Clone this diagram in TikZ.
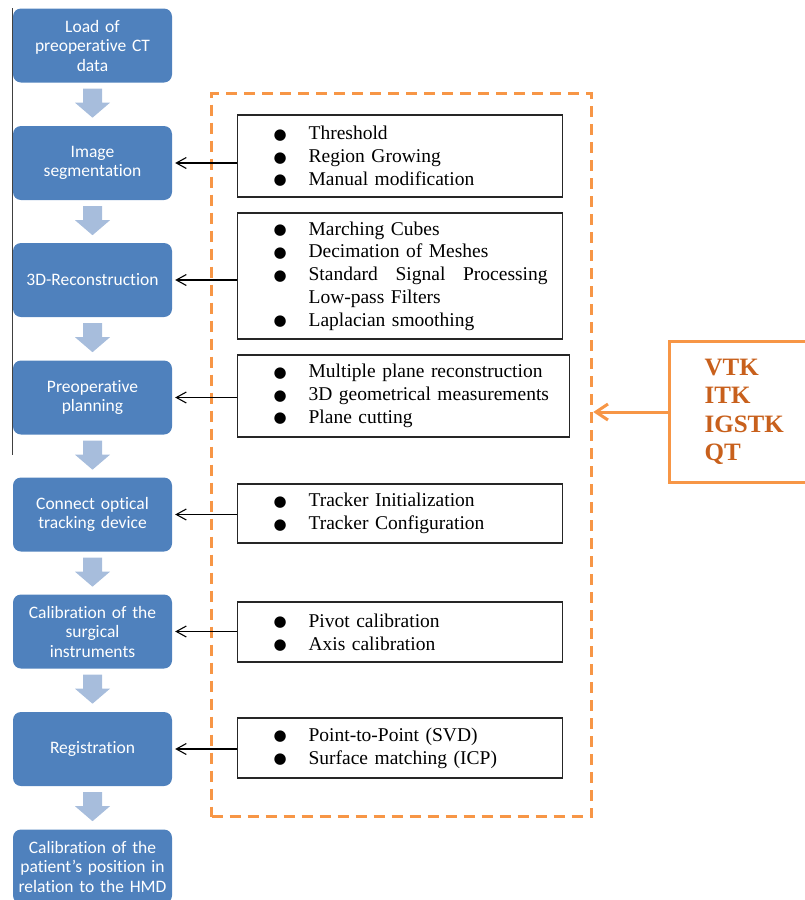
\documentclass[tikz,border=0pt]{standalone}
\usepackage{fontspec}
\setmainfont{Liberation Serif}
\newfontfamily\calfont[Ligatures=NoCommon]{Carlito}
\newfontfamily\symfont{DejaVu Sans}
\usepackage{xcolor}
\usetikzlibrary{positioning,arrows.meta}

\definecolor{stageblue}{RGB}{79,129,189}
\definecolor{flowgray}{RGB}{167,189,220}
\definecolor{libsorange}{RGB}{247,150,70}
\definecolor{libstext}{RGB}{200,96,28}

\newcommand{\itm}[1]{\hspace*{36pt}\makebox[35pt][l]{\smash{\raisebox{0.5pt}{\symfont\fontsize{15}{15}\selectfont ●}}}#1}
\newcommand{\cont}[1]{\hspace*{71pt}#1}

\begin{document}
\begin{tikzpicture}[x=1pt, y=-1pt,
    stage/.style={fill=stageblue, rounded corners=8pt, minimum width=159pt, minimum height=74pt,
        text width=150pt, align=center, inner sep=0pt, text=white,
        font=\calfont\fontsize{17.5}{19.5}\selectfont},
    tools/.style={draw=black!85, line width=1.2pt, anchor=west, inner sep=0pt, align=left,
        font=\fontsize{19.5}{22.7}\selectfont},
    flow/.pic={\fill[flowgray] (-9.5,0) -- (9.5,0) -- (9.5,14) -- (17.5,14) -- (0,29) -- (-17.5,14) -- (-9.5,14) -- cycle;},
    feed/.style={-{Straight Barb[length=10pt,width=11pt]}, line width=1.1pt, shorten >=3pt}]
    \path[use as bounding box, clip] (0,0) rectangle (805,900);

    % pipeline
    \node[stage] (load) at (92.5, 45.5) {Load of\\ preoperative CT\\ data};
    \node[stage] (seg) at (92.5, 163) {Image\\ segmentation};
    \node[stage] (recon) at (92.5, 280) {3D-Reconstruction};
    \node[stage] (plan) at (92.5, 397.5) {Preoperative\\ planning};
    \node[stage] (track) at (92.5, 514.5) {Connect optical\\ tracking device};
    \node[stage] (calib) at (92.5, 631.5) {Calibration of the\\ surgical\\ instruments};
    \node[stage] (reg) at (92.5, 749) {Registration};
    \node[stage] (hmd) at (92.5, 866.5) {Calibration of the\\ patient’s position in\\ relation to the HMD};

    \foreach \s in {load,seg,recon,plan,track,calib,reg}
        \pic at ([yshift=-6pt]\s.south) {flow};
    \draw[line width=1pt, black!75] (load.north west) -- ++(0,447);

    % methods
    \node[draw=libsorange, line width=3.5pt, dash pattern=on 11pt off 7pt,
        minimum width=380pt, minimum height=723pt, inner sep=0pt] (frame) at (401.5, 455) {};

    \node[tools, text width=325pt, minimum height=82pt] (segtools) at (237, 156)
        {\itm{Threshold}\\ \itm{Region Growing}\\ \itm{Manual modification}};
    \node[tools, text width=325pt, minimum height=126pt] (recontools) at (237, 276)
        {\itm{Marching Cubes}\\ \itm{Decimation of Meshes}\\
         \itm{\makebox[239pt]{Standard\hfill Signal\hfill Processing}}\\ \cont{Low-pass Filters}\\
         \itm{Laplacian smoothing}};
    \node[tools, text width=332pt, minimum height=82pt] (plantools) at (237, 396)
        {\itm{Multiple plane reconstruction}\\ \itm{3D geometrical measurements}\\ \itm{Plane cutting}};
    \node[tools, text width=325pt, minimum height=59pt] (tracktools) at (237, 513.5)
        {\itm{Tracker Initialization}\\ \itm{Tracker Configuration}};
    \node[tools, text width=325pt, minimum height=60pt] (calibtools) at (237, 632)
        {\itm{Pivot calibration}\\ \itm{Axis calibration}};
    \node[tools, text width=325pt, minimum height=60pt] (regtools) at (237, 748)
        {\itm{Point-to-Point (SVD)}\\ \itm{Surface matching (ICP)}};

    \foreach \t/\s in {segtools/seg, recontools/recon, plantools/plan,
                       tracktools/track, calibtools/calib, regtools/reg}
        \draw[feed] (\t.west |- \s.east) -- (\s.east);

    % libraries
    \node[draw=libsorange, line width=3.3pt, anchor=west, minimum width=165pt, minimum height=141pt,
        text width=95pt, inner xsep=35pt, align=left, text=libstext,
        font=\bfseries\fontsize{25}{28.5}\selectfont] (libs) at (668, 412) {VTK\\ ITK\\ IGSTK\\ QT};
    \draw[libsorange, line width=3pt, -{Straight Barb[length=12pt,width=16pt]}]
        (libs.west) -- (frame.east |- libs.west);
\end{tikzpicture}
\end{document}
